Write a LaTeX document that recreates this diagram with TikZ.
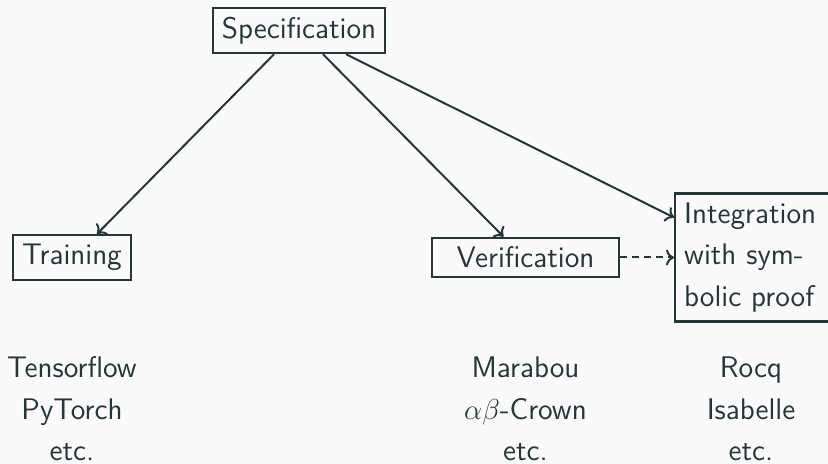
\documentclass[tikz,border=0pt]{standalone}
\usetikzlibrary{arrows.meta}
\definecolor{fg}{HTML}{23373B}
\definecolor{bg}{HTML}{FAFAFA}
\begin{document}
\begin{tikzpicture}[x=0.5pt,y=-0.5pt,
  every node/.style={text=fg,font=\fontsize{14.9}{20.85}\selectfont\sffamily},
  box/.style={draw=fg,line width=1.2pt,inner sep=4.5pt},
  link/.style={draw=fg,line width=1pt,-{To[length=4pt,width=8pt]}},
  tools/.style={align=center,anchor=base,inner sep=0pt}]
\fill[bg] (0,0) rectangle (828,464);
\useasboundingbox (0,0) rectangle (828,464);
\node[box] (spec) at (299,30.5) {Specification};
\node[box] (train) at (72,257.5) {Training};
\node[box,minimum width=93.5pt] (ver) at (525.5,257.5) {Verification};
\node[box,anchor=west,text width=71pt,align=left] (integ) at (674,257.5) {Integration\\with sym-\\bolic proof};
\draw[link] ([xshift=-12.5pt]spec.south) -- ([xshift=12.5pt]train.north);
\draw[link] ([xshift=12pt]spec.south) -- ([xshift=-11pt]ver.north);
\draw[link] ([xshift=23.5pt]spec.south) -- ([yshift=20pt]integ.west);
\draw[link,dash pattern=on 3.5pt off 2.5pt] (ver.east) -- (integ.west);
\node[tools] (t1) at (72,460.7) {Tensorflow\\PyTorch\\etc.};
\node[tools] (t2) at (525.5,460.7) {Marabou\\$\alpha\beta$-Crown\\etc.};
\node[tools] (t3) at (751,460.7) {Rocq\\Isabelle\\etc.};
\end{tikzpicture}
\end{document}
